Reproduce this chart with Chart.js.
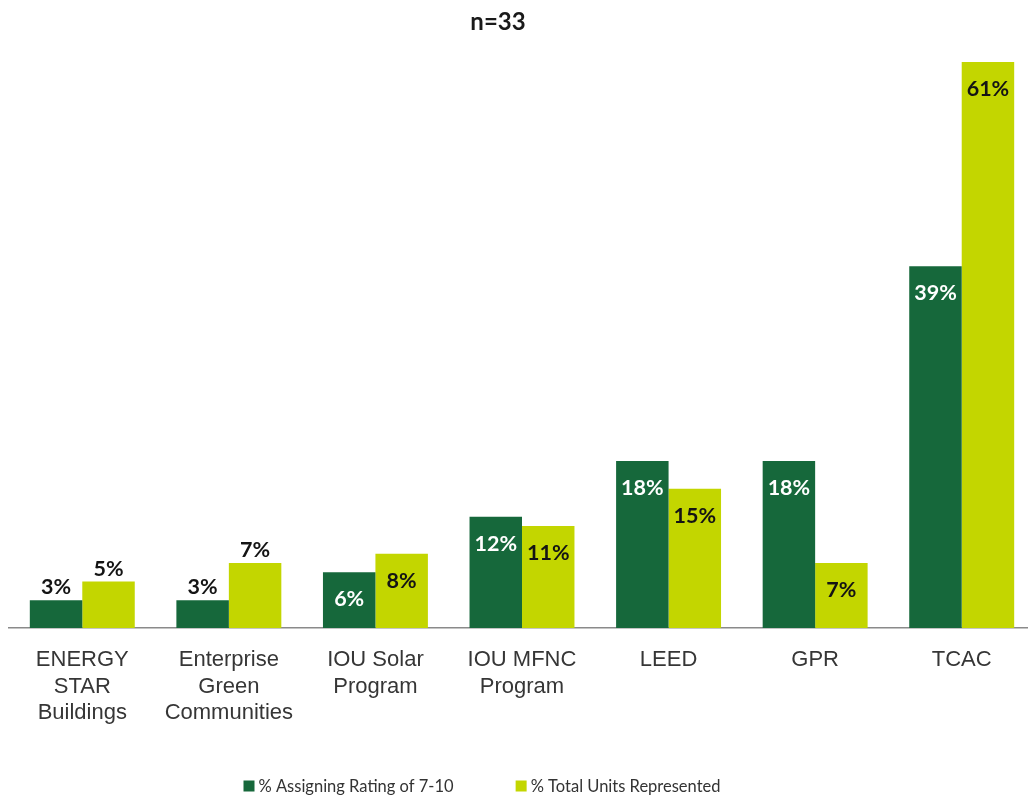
<!DOCTYPE html>
<html>
<head>
<meta charset="utf-8">
<script src="https://cdn.jsdelivr.net/npm/chart.js@4.4.1/dist/chart.umd.min.js"></script>
<style>
  html, body { margin: 0; padding: 0; background: #ffffff; overflow: hidden; }
  #wrap { position: absolute; left: 0; top: 0; width: 1040px; height: 800px; }
</style>
</head>
<body>
<div id="wrap"><canvas id="chart" width="1040" height="800"></canvas></div>
<script>
const chartTitle = 'n=33';
const categories = [
  ['ENERGY', 'STAR', 'Buildings'],
  ['Enterprise', 'Green', 'Communities'],
  ['IOU Solar', 'Program'],
  ['IOU MFNC', 'Program'],
  ['LEED'],
  ['GPR'],
  ['TCAC']
];
const seriesNames = ['% Assigning Rating of 7-10', '% Total Units Represented'];
const ratingValues = [3, 3, 6, 12, 18, 18, 39];
const unitValues = [5, 7, 8, 11, 15, 7, 61];

const DARK = '#16683b';
const LIME = '#c3d600';

// Value labels: sit inside the top of the bar, except for the short bars listed here,
// whose labels sit just above.
const labelsAbove = [[0, 1], [0, 1]];

const valueLabels = {
  id: 'valueLabels',
  afterDatasetsDraw(chart) {
    const ctx = chart.ctx;
    ctx.save();
    ctx.font = 'bold 21.5px Lato, "Open Sans", sans-serif';
    ctx.textAlign = 'center';
    ctx.textBaseline = 'middle';
    chart.data.datasets.forEach((ds, di) => {
      const meta = chart.getDatasetMeta(di);
      meta.data.forEach((bar, i) => {
        const v = ds.data[i];
        const above = labelsAbove[di].includes(i);
        let y;
        if (above) {
          y = bar.y - 13;
          ctx.fillStyle = '#141414';
        } else {
          y = bar.y + 27;
          ctx.fillStyle = di === 0 ? '#ffffff' : '#141414';
        }
        ctx.fillText(v + '%', bar.x, y);
      });
    });
    ctx.restore();
  }
};

// Title and legend drawn together on the canvas.
const headerFooter = {
  id: 'headerFooter',
  afterDraw(chart) {
    const ctx = chart.ctx;
    ctx.save();
    ctx.fillStyle = '#1a1a1a';
    ctx.font = 'bold 24px Lato, "Open Sans", sans-serif';
    ctx.textAlign = 'center';
    ctx.textBaseline = 'middle';
    ctx.fillText(chartTitle, 498, 22);

    ctx.font = '16.5px Lato, "Open Sans", sans-serif';
    ctx.textAlign = 'left';
    const box = 11, gapText = 4, gapItem = 62;
    const widths = chart.data.datasets.map(ds => box + gapText + ctx.measureText(ds.label).width);
    const total = widths.reduce((a, b) => a + b, 0) + gapItem * (widths.length - 1);
    let x = 482 - total / 2;
    const y = 786;
    chart.data.datasets.forEach((ds, i) => {
      ctx.fillStyle = ds.backgroundColor;
      ctx.fillRect(x, y - box / 2, box, box);
      ctx.fillStyle = '#333333';
      ctx.fillText(ds.label, x + box + gapText, y + 1);
      x += widths[i] + gapItem;
    });
    ctx.restore();
  }
};

new Chart(document.getElementById('chart'), {
  type: 'bar',
  data: {
    labels: categories,
    datasets: [
      { label: seriesNames[0], data: ratingValues, backgroundColor: DARK },
      { label: seriesNames[1], data: unitValues, backgroundColor: LIME }
    ]
  },
  options: {
    responsive: false,
    animation: false,
    layout: { padding: { top: 62, left: 9, right: 5, bottom: 0 } },
    datasets: { bar: { barPercentage: 1.0, categoryPercentage: 0.716 } },
    plugins: {
      legend: { display: false },
      title: { display: false },
      tooltip: { enabled: false }
    },
    scales: {
      x: {
        grid: { display: false, drawTicks: false },
        border: { display: true, color: '#8a8a8a', width: 1.5 },
        ticks: {
          color: '#363636',
          padding: 19,
          maxRotation: 0,
          autoSkip: false,
          font: { family: '"Liberation Sans", Arial, sans-serif', size: 22, lineHeight: 1.2 }
        },
        afterFit(scale) { scale.height = 172; }
      },
      y: {
        display: false,
        min: 0,
        max: 61
      }
    }
  },
  plugins: [valueLabels, headerFooter]
});
</script>
</body>
</html>
